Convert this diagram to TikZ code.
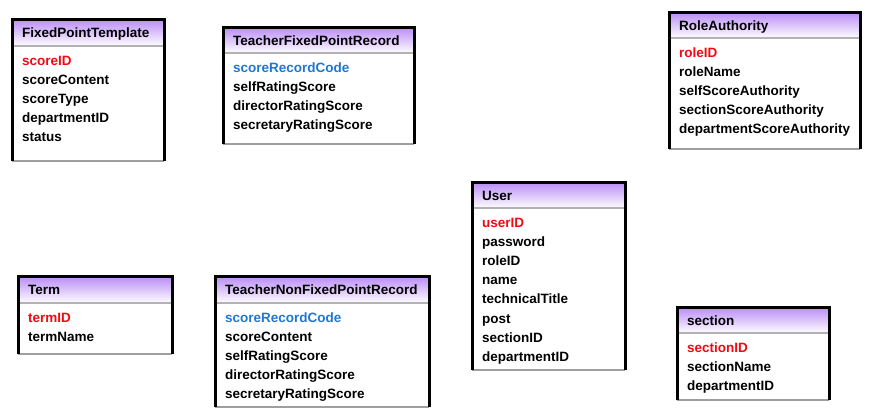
\documentclass[tikz,border=0pt]{standalone}
\usepackage{fontspec}
\setmainfont{Liberation Sans}
\usepackage{tikz}
\usetikzlibrary{positioning}
\definecolor{hdrtop}{RGB}{185,140,245}
\definecolor{keyred}{RGB}{240,10,20}
\definecolor{codeblue}{RGB}{30,120,210}
\newcommand{\pkey}[1]{\textcolor{keyred}{#1}}
\newcommand{\rcode}[1]{\textcolor{codeblue}{#1}}
\tikzset{
  tblhead/.style={rectangle,anchor=north west,top color=hdrtop,bottom color=white,
    minimum height=26pt,align=left,font=\bfseries\fontsize{13.5}{19.2}\selectfont,
    inner xsep=10pt,inner ysep=0pt,text height=11pt,text depth=0.5pt},
  tblbody/.style={rectangle,fill=white,align=left,
    font=\bfseries\fontsize{13.5}{19.2}\selectfont,
    inner xsep=10pt,inner ysep=0pt,text height=18.5pt},
  tblframe/.style={line width=3pt,draw=black,line join=miter},
  tblbottom/.style={line width=2pt,draw=gray!75},
  tblsep/.style={line width=2pt,draw=gray!60},
}

\begin{document}
\begin{tikzpicture}[x=1pt,y=-1pt]
  \useasboundingbox (0,0) rectangle (874,416);

  % FixedPointTemplate
  \node[tblhead,text width=132pt,minimum height=27pt] (fpt-h) at (12,19) {FixedPointTemplate};
  \node[tblbody,text width=132pt,text depth=95.5pt,below=0pt of fpt-h] (fpt-b)
  {
    \pkey{scoreID}\\
    scoreContent\\
    scoreType\\
    departmentID\\
    status
  };

  % TeacherFixedPointRecord
  \node[tblhead,text width=171pt] (tfpr-h) at (223,27) {TeacherFixedPointRecord};
  \node[tblbody,text width=171pt,text depth=71.5pt,below=0pt of tfpr-h] (tfpr-b)
  {
    \rcode{scoreRecordCode}\\
    selfRatingScore\\
    directorRatingScore\\
    secretaryRatingScore
  };

  % RoleAuthority
  \node[tblhead,text width=171pt] (role-h) at (669,12) {RoleAuthority};
  \node[tblbody,text width=171pt,text depth=91.5pt,below=0pt of role-h] (role-b)
  {
    \pkey{roleID}\\
    roleName\\
    selfScoreAuthority\\
    sectionScoreAuthority\\
    departmentScoreAuthority
  };

  % User
  \node[tblhead,text width=133pt] (usr-h) at (472,182) {User};
  \node[tblbody,text width=133pt,text depth=142.5pt,below=0pt of usr-h] (usr-b)
  {
    \pkey{userID}\\
    password\\
    roleID\\
    name\\
    technicalTitle\\
    post\\
    sectionID\\
    departmentID
  };

  % Term
  \node[tblhead,text width=134pt,minimum height=27pt] (term-h) at (18,276) {Term};
  \node[tblbody,text width=134pt,text depth=31.5pt,below=0pt of term-h] (term-b)
  {
    \pkey{termID}\\
    termName
  };

  % TeacherNonFixedPointRecord
  \node[tblhead,text width=194pt,minimum height=27pt] (tnf-h) at (215,276) {TeacherNonFixedPointRecord};
  \node[tblbody,text width=194pt,text depth=84.5pt,below=0pt of tnf-h] (tnf-b)
  {
    \rcode{scoreRecordCode}\\
    scoreContent\\
    selfRatingScore\\
    directorRatingScore\\
    secretaryRatingScore
  };

  % section
  \node[tblhead,text width=132pt] (sec-h) at (677,307) {section};
  \node[tblbody,text width=132pt,text depth=47.5pt,below=0pt of sec-h] (sec-b)
  {
    \pkey{sectionID}\\
    sectionName\\
    departmentID
  };

  % table frames
  \foreach \t in {fpt,tfpr,role,usr,term,tnf,sec} {
    \draw[tblsep] (\t-h.south west) -- (\t-h.south east);
    \draw[tblbottom] (\t-b.south west) -- (\t-b.south east);
    \draw[tblframe] (\t-b.south west) -- (\t-h.north west) -- (\t-h.north east) -- (\t-b.south east);
  }

\end{tikzpicture}
\end{document}
